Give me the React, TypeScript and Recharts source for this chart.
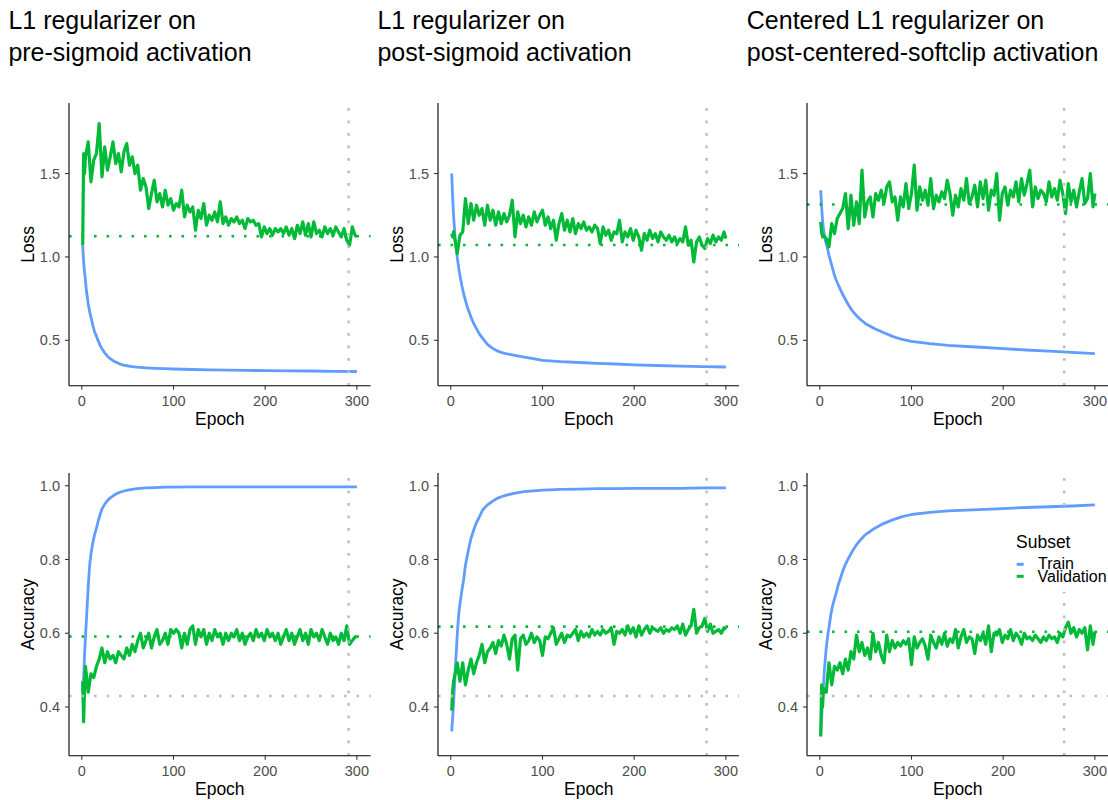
import React from 'react';
import { LineChart, Line, XAxis, YAxis, ReferenceLine, Legend } from 'recharts';

// ---------- data ----------
const TRAIN_EPOCHS = [1, 2, 3, 4, 5, 6, 7, 8, 9, 10, 12, 14, 16, 18, 20, 22, 25, 28, 31, 35, 40, 45, 50, 55, 60, 70, 80, 90, 100, 120, 140, 160, 180, 200, 225, 250, 275, 300];
const VAL_EPOCHS: number[] = [1, 2, 3, ...Array.from({ length: 99 }, (_, i) => 4 + 3 * i), 300];

const TRAIN_LOSS_PRE = [1.07, 0.97, 0.91, 0.86, 0.80, 0.76, 0.72, 0.69, 0.66, 0.64, 0.59, 0.55, 0.525, 0.495, 0.47, 0.45, 0.425, 0.405, 0.39, 0.375, 0.362, 0.352, 0.347, 0.342, 0.339, 0.335, 0.332, 0.33, 0.328, 0.325, 0.323, 0.321, 0.32, 0.318, 0.317, 0.316, 0.314, 0.313];
const TRAIN_LOSS_POST = [1.50, 1.36, 1.25, 1.17, 1.10, 1.05, 1.00, 0.96, 0.92, 0.89, 0.83, 0.78, 0.74, 0.70, 0.67, 0.64, 0.60, 0.57, 0.54, 0.51, 0.475, 0.455, 0.438, 0.428, 0.42, 0.41, 0.40, 0.39, 0.38, 0.372, 0.367, 0.362, 0.358, 0.353, 0.349, 0.345, 0.342, 0.34];
const TRAIN_LOSS_CENT = [1.40, 1.30, 1.22, 1.17, 1.13, 1.10, 1.08, 1.06, 1.035, 1.01, 0.97, 0.93, 0.89, 0.86, 0.835, 0.81, 0.775, 0.745, 0.715, 0.68, 0.648, 0.622, 0.60, 0.585, 0.57, 0.545, 0.522, 0.505, 0.494, 0.48, 0.47, 0.463, 0.457, 0.45, 0.442, 0.435, 0.428, 0.42];
const TRAIN_ACC_PRE = [0.44, 0.48, 0.54, 0.59, 0.635, 0.68, 0.725, 0.765, 0.795, 0.815, 0.845, 0.868, 0.885, 0.905, 0.922, 0.937, 0.95, 0.96, 0.967, 0.974, 0.981, 0.985, 0.988, 0.99, 0.992, 0.994, 0.995, 0.996, 0.996, 0.997, 0.997, 0.997, 0.997, 0.997, 0.997, 0.997, 0.997, 0.997];
const TRAIN_ACC_POST = [0.334, 0.37, 0.41, 0.455, 0.51, 0.55, 0.595, 0.63, 0.66, 0.68, 0.715, 0.745, 0.785, 0.81, 0.835, 0.857, 0.88, 0.9, 0.915, 0.935, 0.948, 0.957, 0.965, 0.97, 0.974, 0.98, 0.984, 0.986, 0.988, 0.99, 0.991, 0.992, 0.992, 0.993, 0.993, 0.993, 0.994, 0.994];
const TRAIN_ACC_CENT = [0.33, 0.37, 0.42, 0.46, 0.50, 0.53, 0.56, 0.58, 0.60, 0.615, 0.65, 0.675, 0.693, 0.71, 0.73, 0.745, 0.768, 0.787, 0.802, 0.82, 0.84, 0.855, 0.868, 0.876, 0.885, 0.898, 0.908, 0.916, 0.922, 0.928, 0.932, 0.934, 0.936, 0.938, 0.941, 0.943, 0.945, 0.948];

const VAL_LOSS_PRE = [
  1.07, 1.62, 1.50,
  1.60, 1.69, 1.45, 1.58, 1.62, 1.80, 1.48, 1.66, 1.52, 1.60,
  1.69, 1.56, 1.62, 1.51, 1.63, 1.68, 1.55, 1.60, 1.50, 1.55,
  1.40, 1.47, 1.42, 1.29, 1.38, 1.46, 1.33, 1.38, 1.30, 1.40,
  1.31, 1.35, 1.28, 1.32, 1.30, 1.40, 1.24, 1.31, 1.27, 1.30,
  1.16, 1.28, 1.23, 1.32, 1.19, 1.25, 1.22, 1.27, 1.21, 1.33,
  1.20, 1.24, 1.19, 1.23, 1.21, 1.24, 1.20, 1.22, 1.17, 1.23,
  1.21, 1.22, 1.19, 1.20, 1.12, 1.18, 1.14, 1.17, 1.13, 1.17,
  1.15, 1.17, 1.14, 1.18, 1.13, 1.17, 1.11, 1.19, 1.14, 1.21,
  1.13, 1.20, 1.12, 1.21, 1.14, 1.16, 1.12, 1.18, 1.14, 1.17,
  1.13, 1.18, 1.15, 1.12, 1.17, 1.10, 1.07, 1.18, 1.13,
  1.12,
];
const VAL_LOSS_POST = [
  1.14, 1.12, 1.15,
  1.12, 1.02, 1.13, 1.15, 1.35, 1.20, 1.32, 1.22, 1.31, 1.25,
  1.29, 1.19, 1.31, 1.22, 1.28, 1.19, 1.27, 1.20, 1.26, 1.21,
  1.25, 1.34, 1.12, 1.27, 1.20, 1.25, 1.18, 1.24, 1.19, 1.27,
  1.21, 1.25, 1.28, 1.19, 1.24, 1.17, 1.22, 1.10, 1.20, 1.26,
  1.16, 1.22, 1.15, 1.23, 1.14, 1.20, 1.17, 1.21, 1.16, 1.18,
  1.15, 1.19, 1.17, 1.08, 1.18, 1.13, 1.16, 1.10, 1.15, 1.14,
  1.22, 1.09, 1.15, 1.12, 1.17, 1.10, 1.16, 1.12, 1.04, 1.14,
  1.10, 1.16, 1.11, 1.14, 1.09, 1.15, 1.12, 1.10, 1.13, 1.09,
  1.12, 1.08, 1.11, 1.09, 1.18, 1.07, 1.10, 0.97, 1.09, 1.12,
  1.07, 1.05, 1.11, 1.08, 1.13, 1.09, 1.12, 1.10, 1.15,
  1.11,
];
const VAL_LOSS_CENT = [
  1.21, 1.15, 1.12,
  1.13, 1.11, 1.06, 1.20, 1.14, 1.23, 1.26, 1.29, 1.38, 1.17,
  1.37, 1.19, 1.33, 1.20, 1.52, 1.24, 1.33, 1.36, 1.24, 1.38,
  1.34, 1.40, 1.32, 1.42, 1.45, 1.33, 1.36, 1.22, 1.36, 1.30,
  1.44, 1.29, 1.38, 1.55, 1.28, 1.42, 1.34, 1.40, 1.31, 1.47,
  1.29, 1.37, 1.33, 1.39, 1.35, 1.46, 1.38, 1.25, 1.37, 1.30,
  1.41, 1.34, 1.47, 1.32, 1.36, 1.43, 1.30, 1.45, 1.35, 1.46,
  1.28, 1.40, 1.37, 1.50, 1.22, 1.38, 1.42, 1.31, 1.40, 1.36,
  1.45, 1.33, 1.47, 1.37, 1.44, 1.52, 1.30, 1.42, 1.35, 1.40,
  1.38, 1.33, 1.45, 1.36, 1.41, 1.34, 1.46, 1.38, 1.26, 1.44,
  1.33, 1.40, 1.30, 1.39, 1.47, 1.32, 1.35, 1.50, 1.30,
  1.38,
];
const VAL_ACC_PRE = [
  0.47, 0.36, 0.45,
  0.51, 0.44, 0.49, 0.48, 0.51, 0.53, 0.56, 0.52, 0.55, 0.53,
  0.54, 0.52, 0.55, 0.54, 0.53, 0.56, 0.54, 0.57, 0.55, 0.58,
  0.60, 0.56, 0.58, 0.60, 0.56, 0.59, 0.61, 0.57, 0.58, 0.60,
  0.57, 0.61, 0.60, 0.61, 0.60, 0.56, 0.60, 0.57, 0.61, 0.62,
  0.57, 0.61, 0.59, 0.61, 0.57, 0.60, 0.58, 0.61, 0.59, 0.60,
  0.57, 0.60, 0.58, 0.60, 0.59, 0.61, 0.58, 0.60, 0.57, 0.59,
  0.60, 0.58, 0.61, 0.59, 0.60, 0.58, 0.61, 0.59, 0.60, 0.58,
  0.60, 0.57, 0.59, 0.61, 0.58, 0.60, 0.57, 0.59, 0.61, 0.58,
  0.60, 0.57, 0.61, 0.59, 0.60, 0.58, 0.61, 0.59, 0.57, 0.60,
  0.58, 0.59, 0.57, 0.60, 0.58, 0.62, 0.57, 0.58, 0.59,
  0.59,
];
const VAL_ACC_POST = [
  0.39, 0.44, 0.47,
  0.48, 0.52, 0.47, 0.52, 0.46, 0.50, 0.53, 0.49, 0.52, 0.54,
  0.57, 0.52, 0.55, 0.56, 0.575, 0.545, 0.58, 0.565, 0.595, 0.57,
  0.53, 0.585, 0.595, 0.50, 0.585, 0.595, 0.57, 0.58, 0.60, 0.575,
  0.59, 0.58, 0.54, 0.59, 0.585, 0.60, 0.615, 0.57, 0.585, 0.60,
  0.575, 0.595, 0.59, 0.60, 0.61, 0.58, 0.605, 0.59, 0.60, 0.59,
  0.61, 0.595, 0.605, 0.595, 0.61, 0.60, 0.605, 0.615, 0.57, 0.605,
  0.60, 0.61, 0.595, 0.62, 0.60, 0.615, 0.59, 0.62, 0.595, 0.61,
  0.62, 0.60, 0.615, 0.61, 0.605, 0.615, 0.60, 0.61, 0.605, 0.615,
  0.61, 0.62, 0.60, 0.625, 0.595, 0.61, 0.62, 0.665, 0.60, 0.615,
  0.62, 0.64, 0.605, 0.625, 0.60, 0.605, 0.61, 0.60, 0.615,
  0.61,
];
const VAL_ACC_CENT = [
  0.32, 0.46, 0.40,
  0.45, 0.44, 0.52, 0.46, 0.51, 0.50, 0.52, 0.49, 0.53, 0.50,
  0.55, 0.53, 0.595, 0.55, 0.575, 0.54, 0.56, 0.53, 0.60, 0.55,
  0.575, 0.54, 0.52, 0.595, 0.55, 0.58, 0.56, 0.575, 0.565, 0.58,
  0.57, 0.585, 0.515, 0.59, 0.56, 0.575, 0.585, 0.565, 0.53, 0.595,
  0.575, 0.56, 0.59, 0.57, 0.60, 0.565, 0.585, 0.575, 0.61, 0.56,
  0.59, 0.61, 0.575, 0.59, 0.585, 0.545, 0.595, 0.58, 0.60, 0.57,
  0.62, 0.55, 0.60, 0.595, 0.61, 0.575, 0.595, 0.585, 0.61, 0.58,
  0.60, 0.59, 0.57, 0.60, 0.585, 0.59, 0.58, 0.595, 0.585, 0.575,
  0.59, 0.58, 0.595, 0.585, 0.59, 0.575, 0.60, 0.59, 0.615, 0.63,
  0.60, 0.615, 0.59, 0.61, 0.60, 0.615, 0.555, 0.62, 0.57,
  0.605,
];

const BEST_EPOCH = [291, 279, 266.5];
const BEST_VAL_LOSS = [1.124, 1.072, 1.314];
const BEST_VAL_ACC = [0.591, 0.618, 0.604];
const BASELINE_ACC = 0.43;

const TITLES = [
  ['L1 regularizer on', 'pre-sigmoid activation'],
  ['L1 regularizer on', 'post-sigmoid activation'],
  ['Centered L1 regularizer on', 'post-centered-softclip activation'],
];
const X_TICKS = [0, 100, 200, 300];
const LOSS_TICKS = [0.5, 1.0, 1.5];
const ACC_TICKS = [0.4, 0.6, 0.8, 1.0];
const LOSS_DOMAIN: [number, number] = [0.228, 1.923];
const ACC_DOMAIN: [number, number] = [0.268, 1.0345];
const X_DOMAIN: [number, number] = [-13.95, 314.95];

// ---------- style ----------
const BLUE = '#619CFF';
const GREEN = '#00BA38';
const GREY = '#BEBEBE';
const FONT = '"Liberation Sans", Arial, Helvetica, sans-serif';
const YW = 69;
const XH = 45;
const PW = 301.6;
const PH = 282.7;
const PLOT_LEFTS = [69, 437.7, 806.7];
const PLOT_TOPS = [103.3, 473.3];
const DOT = '2.6 9.9';

const LegendBox = () => (
  <svg width={103} height={80} style={{ display: 'block' }}>
    <rect x={0} y={0} width={103} height={80} fill="#fff" />
    <text x={11} y={35.5} fontSize={17.5} fill="#000" fontFamily={FONT}>Subset</text>
    <line x1={11.7} x2={18.7} y1={52.3} y2={52.3} stroke={BLUE} strokeWidth={3} />
    <line x1={11.7} x2={18.7} y1={64.3} y2={64.3} stroke={GREEN} strokeWidth={3} />
    <text x={33} y={57.3} fontSize={16} fill="#000" fontFamily={FONT}>Train</text>
    <text x={32.5} y={70.2} fontSize={16} fill="#000" fontFamily={FONT}>Validation</text>
  </svg>
);

type PanelCfg = {
  col: number;
  row: number;
  train: number[];
  val: number[];
  yLabel: string;
  hline: number;
  baseline?: number;
  vline: number;
  legend?: boolean;
};

const Panel = ({ cfg }: { cfg: PanelCfg }) => {
  const isLoss = cfg.row === 0;
  const trainData = TRAIN_EPOCHS.map((e, i) => ({ epoch: e, value: cfg.train[i] }));
  const valData = VAL_EPOCHS.map((e, i) => ({ epoch: e, value: cfg.val[i] }));
  const left = PLOT_LEFTS[cfg.col] - YW;
  const top = PLOT_TOPS[cfg.row];
  const xLabel = (p: any) => {
    const vb = p.viewBox || {};
    return (
      <text x={vb.x + vb.width / 2} y={vb.y + 39} textAnchor="middle" fontSize={17.5} fill="#000" fontFamily={FONT}>
        Epoch
      </text>
    );
  };
  const yLabel = (p: any) => {
    const vb = p.viewBox || {};
    const cx = vb.x + vb.width - 35;
    const cy = vb.y + vb.height / 2;
    return (
      <text x={cx} y={cy} transform={`rotate(-90 ${cx} ${cy})`} textAnchor="middle" fontSize={17.5} fill="#000" fontFamily={FONT}>
        {cfg.yLabel}
      </text>
    );
  };
  return (
    <div style={{ position: 'absolute', left, top }}>
      <LineChart width={YW + PW} height={PH + XH} margin={{ top: 0, right: 0, bottom: 0, left: 0 }}>
        <XAxis
          type="number"
          dataKey="epoch"
          domain={X_DOMAIN}
          ticks={X_TICKS}
          interval={0}
          allowDataOverflow
          height={XH}
          tick={{ fill: '#4D4D4D', fontSize: 14.5, fontFamily: FONT }}
          tickSize={4}
          tickMargin={6}
          axisLine={{ stroke: '#000', strokeWidth: 1.1 }}
          tickLine={{ stroke: '#333', strokeWidth: 1.1 }}
          label={xLabel}
        />
        <YAxis
          type="number"
          domain={isLoss ? LOSS_DOMAIN : ACC_DOMAIN}
          ticks={isLoss ? LOSS_TICKS : ACC_TICKS}
          interval={0}
          allowDataOverflow
          width={YW}
          tickFormatter={(v: number) => v.toFixed(1)}
          tick={{ fill: '#4D4D4D', fontSize: 14.5, fontFamily: FONT }}
          tickSize={4}
          tickMargin={5}
          axisLine={{ stroke: '#000', strokeWidth: 1.1 }}
          tickLine={{ stroke: '#333', strokeWidth: 1.1 }}
          label={yLabel}
        />
        <Line data={trainData} dataKey="value" type="linear" stroke={BLUE} strokeWidth={2.8} strokeLinejoin="round" dot={false} activeDot={false} isAnimationActive={false} />
        <Line data={valData} dataKey="value" type="linear" stroke={GREEN} strokeWidth={3.2} strokeLinejoin="round" dot={false} activeDot={false} isAnimationActive={false} />
        <ReferenceLine y={cfg.hline} stroke={GREEN} strokeWidth={2.6} strokeDasharray={DOT} />
        {cfg.baseline !== undefined && (
          <ReferenceLine y={cfg.baseline} stroke={GREY} strokeWidth={2.6} strokeDasharray={DOT} />
        )}
        <ReferenceLine x={cfg.vline} stroke={GREY} strokeWidth={2.6} strokeDasharray={DOT} />
        {cfg.legend && (
          <Legend
            layout="horizontal"
            verticalAlign="middle"
            align="center"
            wrapperStyle={{ left: 267.3, top: 38.7, width: 103, height: 80 }}
            content={() => <LegendBox />}
          />
        )}
      </LineChart>
    </div>
  );
};

const PANELS: PanelCfg[] = [
  { col: 0, row: 0, train: TRAIN_LOSS_PRE, val: VAL_LOSS_PRE, yLabel: 'Loss', hline: BEST_VAL_LOSS[0], vline: BEST_EPOCH[0] },
  { col: 1, row: 0, train: TRAIN_LOSS_POST, val: VAL_LOSS_POST, yLabel: 'Loss', hline: BEST_VAL_LOSS[1], vline: BEST_EPOCH[1] },
  { col: 2, row: 0, train: TRAIN_LOSS_CENT, val: VAL_LOSS_CENT, yLabel: 'Loss', hline: BEST_VAL_LOSS[2], vline: BEST_EPOCH[2] },
  { col: 0, row: 1, train: TRAIN_ACC_PRE, val: VAL_ACC_PRE, yLabel: 'Accuracy', hline: BEST_VAL_ACC[0], baseline: BASELINE_ACC, vline: BEST_EPOCH[0] },
  { col: 1, row: 1, train: TRAIN_ACC_POST, val: VAL_ACC_POST, yLabel: 'Accuracy', hline: BEST_VAL_ACC[1], baseline: BASELINE_ACC, vline: BEST_EPOCH[1] },
  { col: 2, row: 1, train: TRAIN_ACC_CENT, val: VAL_ACC_CENT, yLabel: 'Accuracy', hline: BEST_VAL_ACC[2], baseline: BASELINE_ACC, vline: BEST_EPOCH[2], legend: true },
];

const TITLE_X = [8.4, 377.4, 746.8];
const TITLE_Y = [29, 61];

export default function App() {
  return (
    <div
      style={{
        position: 'absolute',
        left: 0,
        top: 0,
        width: 1108,
        height: 800,
        overflow: 'hidden',
        background: '#fff',
        fontFamily: FONT,
      }}
    >
      <svg width={1108} height={80} style={{ position: 'absolute', left: 0, top: 0 }}>
        {TITLES.map((lines, c) =>
          lines.map((t, r) => (
            <text key={`${c}-${r}`} x={TITLE_X[c]} y={TITLE_Y[r]} fontSize={25} fill="#000" fontFamily={FONT}>
              {t}
            </text>
          ))
        )}
      </svg>
      {PANELS.map((p, i) => (
        <Panel key={i} cfg={p} />
      ))}
    </div>
  );
}
